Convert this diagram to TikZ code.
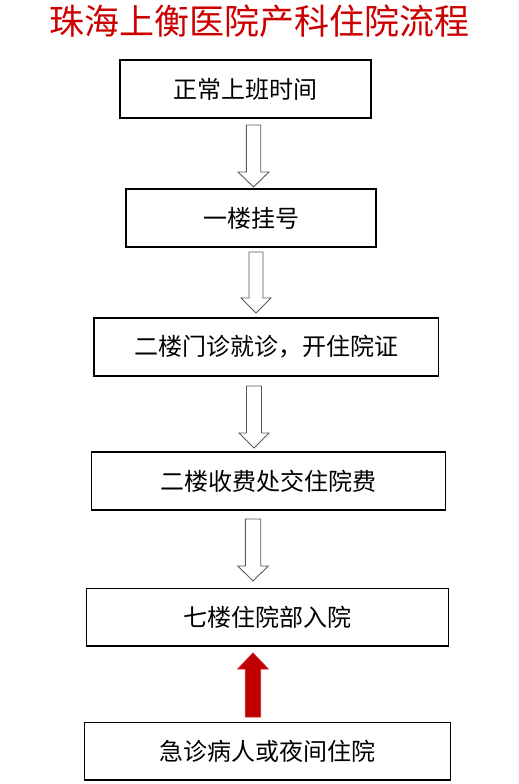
\documentclass[tikz,border=0pt]{standalone}
\usepackage{fontspec}
\newfontfamily\cjk{Noto Sans CJK SC}
\definecolor{titlered}{RGB}{204,0,0}
\definecolor{arrowred}{RGB}{192,0,0}
\definecolor{arrowgray}{RGB}{90,90,90}
\tikzset{
  stepbox/.style={draw=black, line width=1.3pt, fill=white, inner sep=0pt,
    font=\cjk\fontsize{24}{28}\selectfont, text=black},
  harrow/.style={draw=arrowgray, line width=0.9pt, fill=white, line join=miter},
  rarrow/.style={draw=arrowred!85!white, line width=0.8pt, fill=arrowred, line join=miter},
}
% hollow down arrow: #1 x, #2 top y, #3 tip y, #4 head base y, #5 shaft half width, #6 head half width
\newcommand\downblock[6]{%
  \draw[harrow] (#1-#5,#2) -- (#1+#5,#2) -- (#1+#5,#4) -- (#1+#6,#4) -- (#1,#3)
    -- (#1-#6,#4) -- (#1-#5,#4) -- cycle;}
\begin{document}
\begin{tikzpicture}[x=1pt,y=-1pt]
\useasboundingbox (0,0) rectangle (519,784);
\node[font=\cjk\fontsize{35}{40}\selectfont, text=titlered] (title) at (259.5,21) {珠海上衡医院产科住院流程};
\node[stepbox, minimum width=251pt, minimum height=58pt] (b1) at (245.5,89) {正常上班时间};
\node[stepbox, minimum width=250pt, minimum height=58pt] (b2) at (251,218) {一楼挂号};
\node[stepbox, minimum width=344.5pt, minimum height=58pt] (b3) at (266.2,347) {二楼门诊就诊，开住院证};
\node[stepbox, minimum width=354pt, minimum height=58pt] (b4) at (268.7,481) {二楼收费处交住院费};
\node[stepbox, minimum width=362.4pt, minimum height=57.7pt] (b5) at (267.5,617) {七楼住院部入院};
\node[stepbox, minimum width=366pt, minimum height=57.7pt] (b6) at (267.3,751) {急诊病人或夜间住院};
\downblock{253.5}{125}{187}{172}{7.2}{15.5}
\downblock{256}{252}{313}{298}{7}{15}
\downblock{254}{386}{448}{433}{7.5}{15}
\downblock{253}{519}{581}{566}{7.7}{15.2}
\draw[rarrow] (245.3,717) -- (260.7,717) -- (260.7,669) -- (268.3,669) -- (253,653)
  -- (237.7,669) -- (245.3,669) -- cycle;
\end{tikzpicture}
\end{document}
